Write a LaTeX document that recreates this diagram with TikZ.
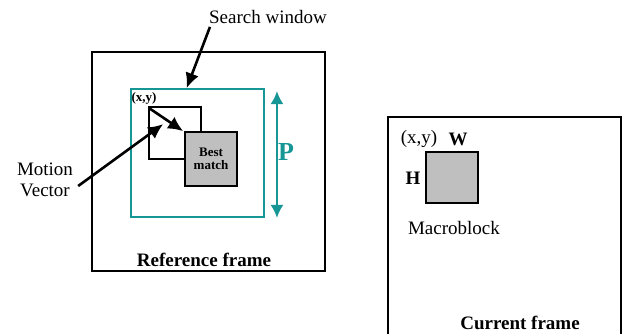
\documentclass[tikz,border=0pt]{standalone}
\usepackage{fontspec}
\setmainfont{Liberation Serif}
\usepackage{tikz}
\usetikzlibrary{calc,arrows.meta}
\definecolor{teal}{rgb}{0.09,0.59,0.59}
\definecolor{blockgray}{rgb}{.75,.75,.75}

\begin{document}
\begin{tikzpicture}[x=1pt,y=-1pt,
  frame/.style={draw=black,line width=1.9pt,inner sep=0pt},
  srch/.style={draw=teal,line width=1.9pt,inner sep=0pt},
  blk/.style={draw=black,line width=1.7pt,inner sep=0pt},
  arr/.style={line width=2.6pt,-{Latex[length=15pt,width=14pt]}},
  lbl/.style={font=\fontsize{19}{21}\selectfont,inner sep=1pt},
  small/.style={font=\fontsize{13}{14}\selectfont\bfseries,inner sep=0pt}]

\useasboundingbox (0,0) rectangle (623,334);

% reference frame
\node[frame,minimum width=233pt,minimum height=219pt] (refframe) at (208.5,161.5) {};
\node[srch,minimum width=133pt,minimum height=128pt] (searchwin) at (197.5,153) {};
\node[blk,minimum width=52pt,minimum height=52pt] (blockxy) at (175,133) {};
\node[blk,fill=blockgray,minimum width=52pt,minimum height=54pt,small,align=center] (bestmatch) at (211,159) {Best\\[-1pt]match};

\node[lbl] (searchlbl) at (268,17) {Search window};
\node[small] (xylbl) at (144,98) {(x,y)};
\node[lbl,align=center] (mvlbl) at (45,180) {Motion\\Vector};
\node[lbl,font=\fontsize{26}{26}\selectfont\bfseries,text=teal] (plbl) at (286,152) {P};
\node[lbl,font=\fontsize{19}{21}\selectfont\bfseries] (reflbl) at (204,260) {Reference frame};

\coordinate (swtip) at ($(searchwin.north west)!0.42!(searchwin.north east)$);
\coordinate (mvtip) at ($(blockxy.north west)+(15,18)$);
\coordinate (ptop) at ($(searchwin.north east)+(12,3)$);
\coordinate (pbot) at ($(searchwin.south east)+(12,0)$);

\draw[arr] ($(searchlbl.south west)+(2,2)$) -- (swtip);
\draw[arr] ($(mvlbl.east)+(4,6)$) -- (mvtip);
\draw[arr] ($(blockxy.north west)+(1,2)$) -- ($(bestmatch.north west)+(-1,0)$);
\draw[teal,line width=2.2pt,{Latex[length=13pt,width=13pt]}-{Latex[length=13pt,width=13pt]}] (ptop) -- (pbot);

% current frame
\node[frame,minimum width=233pt,minimum height=219pt] (curframe) at (504.5,226.5) {};
\node[blk,fill=blockgray,minimum width=52pt,minimum height=51pt] (macro) at (452,177.5) {};
\node[lbl] (xycur) at (419,139) {(x,y)};
\node[lbl,font=\fontsize{19}{21}\selectfont\bfseries] (wlbl) at (458,139) {W};
\node[lbl,font=\fontsize{19}{21}\selectfont\bfseries] (hlbl) at (413,178) {H};
\node[lbl] (mblbl) at (454,228) {Macroblock};
\node[lbl,font=\fontsize{19}{21}\selectfont\bfseries] (curlbl) at (520,323) {Current frame};
\end{tikzpicture}
\end{document}
